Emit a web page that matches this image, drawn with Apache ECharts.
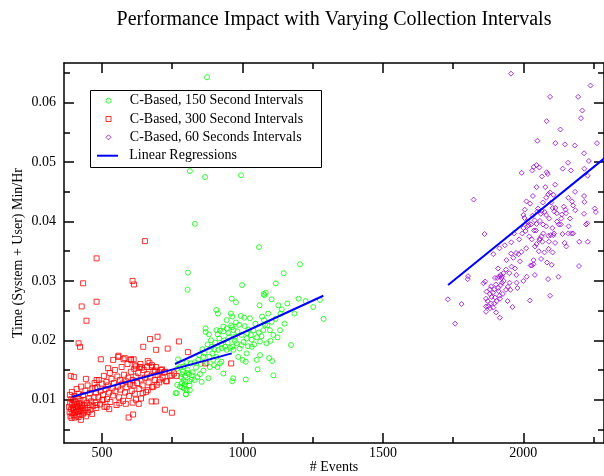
<!DOCTYPE html>
<html>
<head>
<meta charset="utf-8">
<script src="https://cdn.jsdelivr.net/npm/echarts@6/dist/echarts.min.js"></script>
<style>
  html, body { margin: 0; padding: 0; background: #fff; }
  #chart { width: 604px; height: 476px; }
</style>
</head>
<body>
<div id="chart"></div>
<script>
// series names
const name150 = 'C-Based, 150 Second Intervals'
const name300 = 'C-Based, 300 Second Intervals'
const name60 = 'C-Based, 60 Seconds Intervals'
const nameReg = 'Linear Regressions'

// tick values / labels
const xTicks = [500, 1000, 1500, 2000]
const yTicks = [0.01, 0.02, 0.03, 0.04, 0.05, 0.06]

// 300 second intervals (red squares)
const red300 = [
  [383, 0.0088], [385, 0.0079], [387, 0.0095], [388, 0.0072], [390, 0.0084], [391, 0.0101], [392, 0.0069], [394, 0.0091],
  [395, 0.0077], [397, 0.0086], [398, 0.0099], [399, 0.0074], [401, 0.0082], [402, 0.0093], [403, 0.0070], [405, 0.0088],
  [406, 0.0079], [407, 0.0096], [409, 0.0084], [410, 0.0073], [411, 0.0090], [413, 0.0101], [414, 0.0080], [415, 0.0087],
  [417, 0.0071], [418, 0.0094], [420, 0.0083], [421, 0.0076], [423, 0.0098], [424, 0.0088], [425, 0.0066], [427, 0.0081],
  [429, 0.0092], [431, 0.0075], [432, 0.0086], [435, 0.0099], [436, 0.0078], [439, 0.0090], [441, 0.0083], [443, 0.0072],
  [446, 0.0095], [448, 0.0086], [451, 0.0079], [453, 0.0102], [456, 0.0091], [459, 0.0083], [462, 0.0097], [465, 0.0076],
  [469, 0.0089], [473, 0.0104],
  [386, 0.0108], [393, 0.0113], [402, 0.0106], [410, 0.0118], [417, 0.0110], [426, 0.0122], [433, 0.0108], [441, 0.0115],
  [449, 0.0124], [457, 0.0111], [466, 0.0119], [474, 0.0128], [479, 0.0112],
  [477, 0.0095], [480, 0.0086], [484, 0.0121], [487, 0.0104], [489, 0.0133], [493, 0.0092], [495, 0.0115], [499, 0.0127],
  [501, 0.0099], [504, 0.0108], [507, 0.0140], [509, 0.0088], [513, 0.0118], [516, 0.0130], [518, 0.0101], [522, 0.0124],
  [525, 0.0112], [528, 0.0145], [530, 0.0096], [534, 0.0135], [537, 0.0119], [539, 0.0107], [543, 0.0128], [546, 0.0150],
  [548, 0.0114], [552, 0.0091], [555, 0.0139], [557, 0.0122], [561, 0.0104], [564, 0.0133], [566, 0.0117], [570, 0.0155],
  [573, 0.0127], [575, 0.0098], [579, 0.0142], [582, 0.0112], [585, 0.0131], [587, 0.0121], [591, 0.0160], [594, 0.0137],
  [596, 0.0106], [600, 0.0126], [603, 0.0147], [606, 0.0115], [609, 0.0133], [612, 0.0124], [615, 0.0152], [617, 0.0110],
  [620, 0.0139],
  [625, 0.0128], [629, 0.0145], [633, 0.0118], [637, 0.0160], [641, 0.0134], [645, 0.0124], [649, 0.0150], [653, 0.0137],
  [657, 0.0113], [661, 0.0143], [666, 0.0129], [669, 0.0162], [673, 0.0139], [678, 0.0121], [683, 0.0148], [688, 0.0133],
  [692, 0.0155], [698, 0.0142], [704, 0.0129], [710, 0.0150], [716, 0.0137], [722, 0.0146], [731, 0.0131],
  [766, 0.0140], [748, 0.0141], [728, 0.0131], [706, 0.0134], [695, 0.0125], [683, 0.0122], [663, 0.0116], [645, 0.0111],
  [639, 0.0102], [621, 0.0100], [631, 0.0093], [609, 0.0095], [562, 0.0094], [585, 0.0093], [517, 0.0088], [505, 0.0100],
  [481, 0.0091], [526, 0.0084], [692, 0.0097],
  [540, 0.0167], [558, 0.0172], [577, 0.0168], [602, 0.0168], [617, 0.0158], [621, 0.0156], [604, 0.0167], [663, 0.0165],
  [635, 0.0155], [661, 0.0155], [677, 0.0155], [689, 0.0149], [522, 0.0153], [481, 0.0133], [476, 0.0119],
  [559, 0.0174], [581, 0.0170], [613, 0.0168], [642, 0.0154], [678, 0.0158], [714, 0.0151], [704, 0.0146], [725, 0.0147],
  [743, 0.0140], [756, 0.0144], [868, 0.0161],
  [481, 0.0338], [653, 0.0367], [433, 0.0296], [481, 0.0265], [428, 0.0257], [445, 0.0233], [417, 0.0195], [422, 0.0189],
  [389, 0.0140], [400, 0.0138], [443, 0.0135], [496, 0.0168], [609, 0.0300], [614, 0.0294], [671, 0.0202], [698, 0.0206],
  [647, 0.0189], [693, 0.0184], [734, 0.0186], [774, 0.0198], [806, 0.0180], [960, 0.0161], [724, 0.0083], [749, 0.0078],
  [595, 0.0070], [611, 0.0075], [677, 0.0097]
]

// 150 second intervals (green circles)
const green150 = [
  [869, 0.0220], [869, 0.0214], [881, 0.0210], [908, 0.0217], [912, 0.0210], [932, 0.0215], [944, 0.0220], [950, 0.0212],
  [964, 0.0222], [968, 0.0217], [974, 0.0206], [982, 0.0215], [997, 0.0209], [1015, 0.0203], [1017, 0.0212], [1033, 0.0201],
  [1039, 0.0217], [1051, 0.0205], [1063, 0.0198], [1074, 0.0217], [1077, 0.0234], [1080, 0.0226], [1092, 0.0245], [1098, 0.0217],
  [1104, 0.0231], [1110, 0.0209], [1134, 0.0217], [1136, 0.0245], [1128, 0.0259], [1104, 0.0269], [1078, 0.0276], [1061, 0.0259],
  [1027, 0.0237], [1007, 0.0238], [994, 0.0241], [959, 0.0245], [964, 0.0240], [977, 0.0230], [944, 0.0234], [932, 0.0223],
  [920, 0.0216], [890, 0.0189], [900, 0.0185], [914, 0.0184], [926, 0.0187], [938, 0.0189], [944, 0.0184], [956, 0.0187],
  [908, 0.0172], [896, 0.0167], [920, 0.0161], [899, 0.0158], [911, 0.0155], [873, 0.0162], [861, 0.0172], [843, 0.0167],
  [830, 0.0163], [816, 0.0161], [801, 0.0163], [790, 0.0156], [778, 0.0155], [768, 0.0152], [785, 0.0143], [797, 0.0140],
  [809, 0.0143], [819, 0.0134], [830, 0.0133], [798, 0.0130], [785, 0.0128], [768, 0.0125], [778, 0.0122], [792, 0.0119],
  [799, 0.0109], [813, 0.0116], [766, 0.0111], [879, 0.0136], [849, 0.0143], [861, 0.0149], [884, 0.0155], [932, 0.0144],
  [925, 0.0164], [968, 0.0184], [985, 0.0172], [1001, 0.0167], [1012, 0.0164], [1015, 0.0178], [1051, 0.0167], [1063, 0.0175],
  [1095, 0.0170], [1106, 0.0165], [1086, 0.0195], [1033, 0.0189], [997, 0.0192], [964, 0.0189], [979, 0.0195],
  [874, 0.0643], [813, 0.0485], [867, 0.0475], [995, 0.0478], [831, 0.0396], [1059, 0.0357], [806, 0.0314], [805, 0.0285],
  [999, 0.0293], [962, 0.0270], [977, 0.0264], [907, 0.0251], [913, 0.0245], [1205, 0.0328], [1147, 0.0313], [1119, 0.0296],
  [1076, 0.0278], [1083, 0.0280], [1252, 0.0256], [1276, 0.0268], [1289, 0.0236], [1173, 0.0192], [1110, 0.0141], [1054, 0.0151],
  [1012, 0.0134], [964, 0.0131], [967, 0.0136], [762, 0.0111], [799, 0.0109], [801, 0.0116], [771, 0.0168],
  [782, 0.0138], [788, 0.0147], [794, 0.0125], [805, 0.0150], [811, 0.0131], [823, 0.0146], [835, 0.0154], [846, 0.0175],
  [852, 0.0160], [858, 0.0185], [865, 0.0178], [876, 0.0193], [882, 0.0172], [888, 0.0200], [893, 0.0178], [903, 0.0196],
  [918, 0.0203], [925, 0.0193], [935, 0.0200], [948, 0.0196], [953, 0.0205], [960, 0.0225], [973, 0.0199], [988, 0.0226],
  [990, 0.0186], [1004, 0.0197], [1008, 0.0224], [1020, 0.0190], [1022, 0.0218], [1030, 0.0209], [1042, 0.0193], [1046, 0.0228],
  [1058, 0.0213], [1068, 0.0207], [1070, 0.0240], [1089, 0.0225], [1100, 0.0199], [1118, 0.0236], [1125, 0.0205], [1140, 0.0252],
  [1150, 0.0228], [1160, 0.0262], [1185, 0.0245], [1200, 0.0270], [1225, 0.0266], [785, 0.0121], [790, 0.0133], [812, 0.0124],
  [820, 0.0141], [803, 0.0145], [840, 0.0138], [855, 0.0130]
]

// 60 second intervals (purple diamonds)
const purple60 = [
  [1956, 0.0649], [2239, 0.0629], [2095, 0.0610], [2195, 0.0610], [2210, 0.0587], [2205, 0.0574], [2083, 0.0569], [2132, 0.0555],
  [2050, 0.0536], [2114, 0.0532], [2148, 0.0530], [2183, 0.0528], [2262, 0.0532], [2216, 0.0515], [2233, 0.0502], [2159, 0.0499],
  [2229, 0.0477], [2140, 0.0489], [2169, 0.0486], [1994, 0.0482], [2037, 0.0492], [2032, 0.0486], [2047, 0.0495], [2057, 0.0491],
  [2083, 0.0483], [2087, 0.0480], [2066, 0.0476], [2217, 0.0489],
  [2113, 0.0462], [2047, 0.0458], [2078, 0.0458], [2034, 0.0443], [2095, 0.0449], [2089, 0.0446], [2107, 0.0445], [2081, 0.0440],
  [2099, 0.0432], [2069, 0.0432], [2011, 0.0434], [2024, 0.0430], [2052, 0.0422], [2050, 0.0417], [2065, 0.0418], [2076, 0.0416],
  [2062, 0.0413], [2081, 0.0411], [2104, 0.0423], [2114, 0.0423], [2110, 0.0417], [2119, 0.0414], [2137, 0.0412], [2152, 0.0414],
  [2135, 0.0405], [2150, 0.0420], [2173, 0.0434], [2177, 0.0427], [2184, 0.0450], [2216, 0.0443], [2217, 0.0433], [2254, 0.0422],
  [2258, 0.0416], [2185, 0.0419], [2166, 0.0405], [2216, 0.0413], [2000, 0.0411], [2004, 0.0406], [2033, 0.0410], [2040, 0.0402],
  [2019, 0.0394], [2027, 0.0395], [2047, 0.0396], [2059, 0.0401], [2081, 0.0392], [2103, 0.0389], [2126, 0.0395], [2133, 0.0395],
  [2161, 0.0392], [2171, 0.0380], [2160, 0.0380], [2177, 0.0380], [2139, 0.0379], [2109, 0.0380], [2097, 0.0377], [2089, 0.0376],
  [2064, 0.0375], [2059, 0.0371], [2057, 0.0369], [2071, 0.0380], [2030, 0.0370], [2038, 0.0385], [2008, 0.0384], [1996, 0.0380],
  [2021, 0.0375], [2000, 0.0389], [2014, 0.0400], [2047, 0.0362], [2041, 0.0358], [2068, 0.0366], [2091, 0.0366], [2113, 0.0364],
  [2107, 0.0377], [2147, 0.0364], [2153, 0.0358], [2199, 0.0366], [2223, 0.0395], [2227, 0.0397], [2229, 0.0366], [1967, 0.0380],
  [1957, 0.0365], [1934, 0.0360], [1956, 0.0346], [1974, 0.0347], [1983, 0.0345], [1993, 0.0349], [1964, 0.0339], [1988, 0.0333],
  [1958, 0.0324], [1970, 0.0321], [2036, 0.0335], [2036, 0.0328], [2063, 0.0337], [2075, 0.0348], [2104, 0.0348], [2090, 0.0354],
  [2026, 0.0326], [2030, 0.0326], [2084, 0.0331], [2101, 0.0327], [2198, 0.0325], [1893, 0.0345], [1915, 0.0355], [1862, 0.0379],
  [1823, 0.0437],
  [1910, 0.0321], [1918, 0.0310], [1924, 0.0308], [1915, 0.0307], [1929, 0.0313], [1899, 0.0305], [1907, 0.0305], [1923, 0.0305],
  [1950, 0.0313], [1938, 0.0319], [1951, 0.0297], [1976, 0.0297], [1979, 0.0288], [1954, 0.0285], [1938, 0.0285], [1924, 0.0297],
  [1910, 0.0288], [1896, 0.0286], [1881, 0.0286], [1869, 0.0282], [1864, 0.0299], [1858, 0.0296], [1881, 0.0278], [1887, 0.0273],
  [1867, 0.0270], [1899, 0.0272], [1915, 0.0275], [1917, 0.0270], [1905, 0.0266], [1897, 0.0262], [1875, 0.0257], [1881, 0.0254],
  [1867, 0.0248], [1893, 0.0255], [1903, 0.0247], [1916, 0.0238], [1961, 0.0256], [1944, 0.0266], [2023, 0.0267], [2012, 0.0307],
  [2041, 0.0310], [2088, 0.0303], [2125, 0.0307], [2095, 0.0275], [1803, 0.0308], [1802, 0.0303], [1731, 0.0269], [1780, 0.0261],
  [1757, 0.0228], [1867, 0.0257],
  [1885, 0.0291], [1892, 0.0280], [1902, 0.0294], [1912, 0.0283], [1920, 0.0293], [1927, 0.0278], [1873, 0.0266], [1886, 0.0262],
  [1930, 0.0300], [1945, 0.0290], [2005, 0.0420], [2015, 0.0392], [2045, 0.0385], [2070, 0.0395], [2092, 0.0405], [2120, 0.0400],
  [2144, 0.0425], [2160, 0.0440], [1985, 0.0370], [2010, 0.0355], [2055, 0.0350], [1940, 0.0335], [1975, 0.0310], [2000, 0.0300]
]

// regression line end points
const reg300 = [[394, 0.0105], [962, 0.0178]]
const reg150 = [[760, 0.0160], [1288, 0.0275]]
const reg60 = [[1732, 0.0293], [2300, 0.0511]]

const FONT = 'Liberation Serif'
const GREEN = '#00ff00'
const RED = '#ff0000'
const PURPLE = '#9400d3'
const BLUE = '#0000ff'

const chart = echarts.init(document.getElementById('chart'), null, { renderer: 'canvas' })

const frameLine = { show: true, lineStyle: { color: '#000', width: 1.5 } }
const majorTick = { show: true, inside: true, length: 10, lineStyle: { color: '#000', width: 1.5 } }
const minorTick = { show: true, splitNumber: 2, length: 6, lineStyle: { color: '#000', width: 1.5 } }
const legendText = { fontFamily: FONT, fontSize: 14, color: '#000', lineHeight: 14 }

function scatter(name, data, symbol, color, size) {
  return {
    name: name,
    type: 'scatter',
    data: data,
    symbol: symbol,
    symbolSize: size,
    itemStyle: { color: 'transparent', borderColor: color, borderWidth: 1 },
    emphasis: { disabled: true }
  }
}

function regLine(data) {
  return {
    name: nameReg,
    type: 'line',
    data: data,
    symbol: 'none',
    showSymbol: false,
    lineStyle: { color: BLUE, width: 2 },
    itemStyle: { color: BLUE },
    z: 5
  }
}

function hollow(color) {
  return { color: 'transparent', borderColor: color, borderWidth: 1 }
}

chart.setOption({
  animation: false,
  title: {
    text: 'Performance Impact with Varying Collection Intervals',
    left: 329,
    top: 5,
    textAlign: 'center',
    textStyle: { fontFamily: FONT, fontSize: 20, fontWeight: 'normal', color: '#000' }
  },
  grid: { left: 64, right: 0, top: 63, bottom: 33, outerBoundsMode: 'none' },
  // legend frame
  graphic: [{
    type: 'rect',
    z: 10,
    shape: { x: 90.5, y: 90.5, width: 231, height: 77 },
    style: { fill: 'transparent', stroke: '#000', lineWidth: 1 }
  }],
  legend: [
    {
      orient: 'vertical',
      left: 105.5,
      top: 93.7,
      padding: 0,
      itemWidth: 5,
      itemHeight: 5,
      itemGap: 4.3,
      selectedMode: false,
      textStyle: Object.assign({ padding: [0, 0, 0, 13.8] }, legendText),
      data: [
        { name: name150, icon: 'circle', itemStyle: hollow(GREEN) },
        { name: name300, icon: 'rect', itemStyle: hollow(RED) },
        { name: name60, icon: 'diamond', itemStyle: hollow(PURPLE) }
      ]
    },
    {
      orient: 'vertical',
      left: 97,
      top: 148.7,
      padding: 0,
      itemWidth: 21,
      itemHeight: 2,
      selectedMode: false,
      textStyle: Object.assign({ padding: [0, 0, 0, 6.3] }, legendText),
      data: [
        { name: nameReg, icon: 'rect', itemStyle: { color: BLUE, borderWidth: 0 } }
      ]
    }
  ],
  xAxis: [
    {
      type: 'value',
      position: 'bottom',
      min: 365,
      max: 2287,
      splitNumber: 4,
      name: '# Events',
      nameLocation: 'middle',
      nameGap: 17,
      nameMoveOverlap: false,
      nameTextStyle: { fontFamily: FONT, fontSize: 14, color: '#000' },
      axisLine: frameLine,
      axisTick: Object.assign({ customValues: xTicks }, majorTick),
      minorTick: minorTick,
      axisLabel: {
        customValues: xTicks,
        margin: 3,
        fontFamily: FONT,
        fontSize: 14,
        color: '#000',
        formatter: function(v) { return String(v) }
      },
      splitLine: { show: false }
    },
    {
      type: 'value',
      position: 'top',
      min: 365,
      max: 2287,
      splitNumber: 4,
      axisLine: frameLine,
      axisTick: Object.assign({ customValues: xTicks }, majorTick),
      minorTick: minorTick,
      axisLabel: { show: false },
      splitLine: { show: false }
    }
  ],
  yAxis: [
    {
      type: 'value',
      position: 'left',
      min: 0.0027,
      max: 0.0667,
      splitNumber: 5,
      name: 'Time (System + User) Min/Hr',
      nameLocation: 'middle',
      nameGap: 39,
      nameMoveOverlap: false,
      nameTextStyle: { fontFamily: FONT, fontSize: 14, color: '#000' },
      axisLine: frameLine,
      axisTick: Object.assign({ customValues: yTicks }, majorTick),
      minorTick: minorTick,
      axisLabel: {
        customValues: yTicks,
        margin: 8,
        fontFamily: FONT,
        fontSize: 14,
        color: '#000',
        formatter: function(v) { return v.toFixed(2) }
      },
      splitLine: { show: false }
    },
    {
      type: 'value',
      position: 'right',
      min: 0.0027,
      max: 0.0667,
      splitNumber: 5,
      axisLine: frameLine,
      axisTick: Object.assign({ customValues: yTicks }, majorTick),
      minorTick: minorTick,
      axisLabel: { show: false },
      splitLine: { show: false }
    }
  ],
  series: [
    scatter(name150, green150, 'circle', GREEN, 5),
    scatter(name300, red300, 'rect', RED, 5),
    scatter(name60, purple60, 'diamond', PURPLE, 5),
    regLine(reg300),
    regLine(reg150),
    regLine(reg60)
  ]
})
</script>
</body>
</html>
